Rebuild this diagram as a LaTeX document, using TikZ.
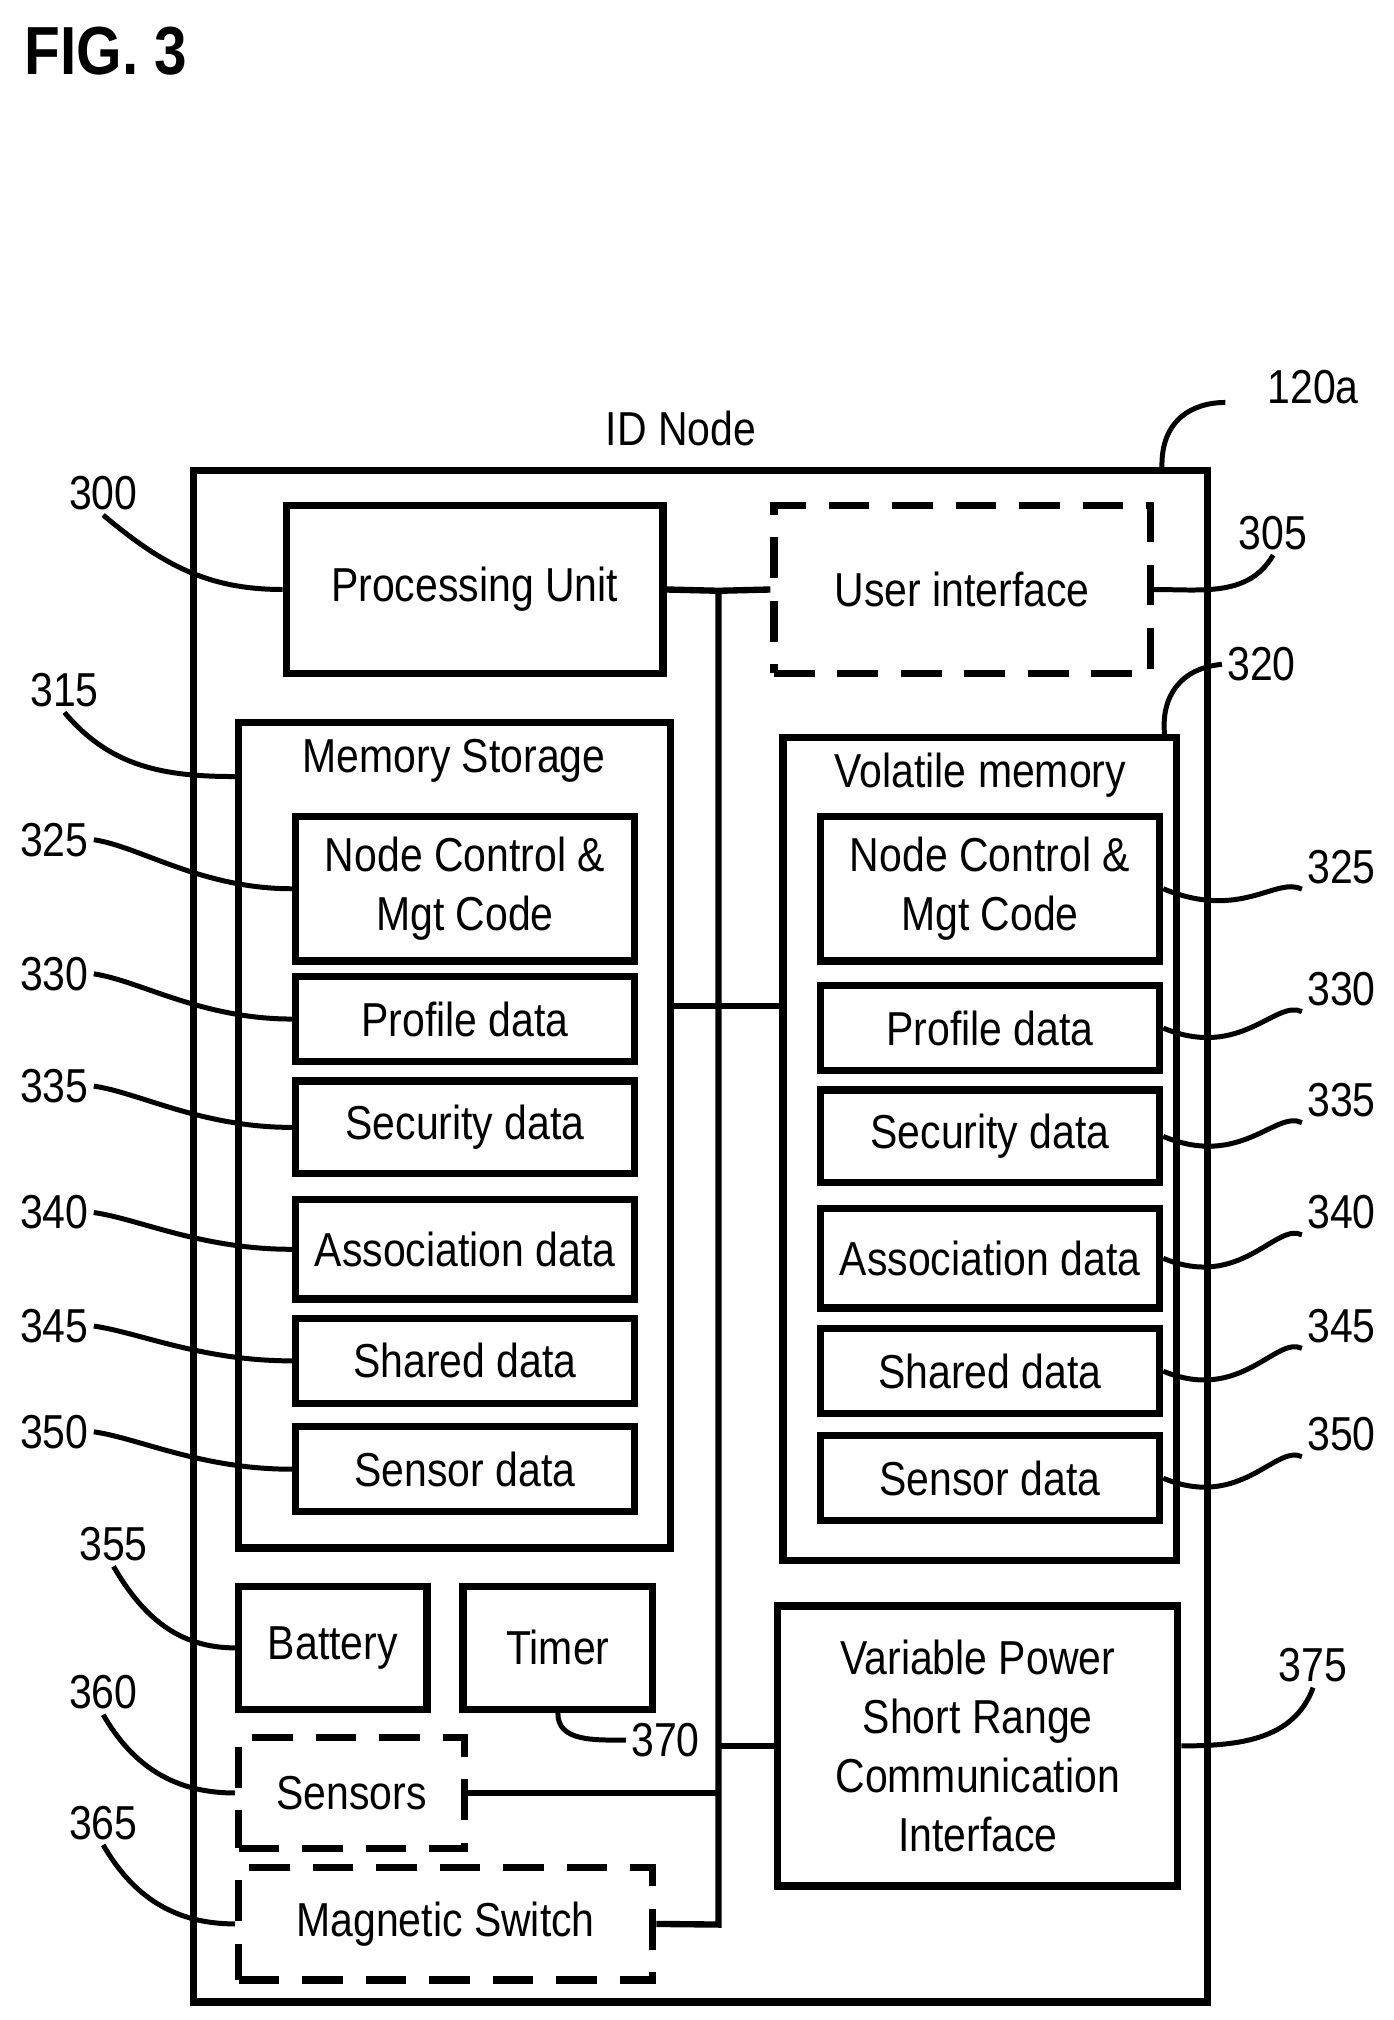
\documentclass[tikz,border=0pt]{standalone}
\usepackage{fontspec}
\setmainfont{Liberation Sans}[FakeStretch=0.86]
\begin{document}
\begin{tikzpicture}[x=0.01cm,y=-0.01cm,
  box/.style={draw,line width=1.6pt,inner sep=0pt,align=center,font=\fontsize{10.5}{13}\selectfont},
  dbox/.style={box,dash pattern=on 9pt off 5pt},
  lbl/.style={font=\fontsize{10.5}{13}\selectfont,inner sep=1pt},
  ln/.style={line width=1.4pt},
  ld/.style={line width=1.1pt}]
\newcommand\bx[7][box]{\node[#1,minimum width={(#5-#3)*0.01cm},minimum height={(#6-#4)*0.01cm}] (#2) at ({(#3+#5)/2},{(#4+#6)/2}) {#7};}
\useasboundingbox (0,0) rectangle (1080,1566);
\node[font=\bfseries\fontsize{15}{18}\selectfont] (fig) at (82,40) {FIG. 3};
\bx{outer}{150}{365}{936}{1552}{}
\node[lbl] (idn) at (528,332) {ID Node};
\node[lbl] (l120) at (1018,300) {120a};
\bx{pu}{222}{392}{514}{522}{Processing Unit}
\bx[dbox]{ui}{600}{392}{892}{522}{User interface}
\bx{ms}{185}{560}{520}{1200}{}
\node[lbl] (mst) at (352,590) {Memory Storage};
\bx{vm}{607}{572}{912}{1210}{}
\node[lbl] (vmt) at (760,601) {Volatile memory};
% left inner
\bx{lnc}{229}{633}{492}{745}{Node Control \&\\Mgt Code}
\bx{lpd}{229}{757}{492}{823}{Profile data}
\bx{lsd}{229}{838}{492}{910}{Security data}
\bx{lad}{229}{930}{492}{1007}{Association data}
\bx{lsh}{229}{1022}{492}{1088}{Shared data}
\bx{lse}{229}{1106}{492}{1172}{Sensor data}
% right inner
\bx{rnc}{636}{633}{899}{745}{Node Control \&\\Mgt Code}
\bx{rpd}{636}{764}{899}{830}{Profile data}
\bx{rsd}{636}{845}{899}{917}{Security data}
\bx{rad}{636}{937}{899}{1014}{Association data}
\bx{rsh}{636}{1030}{899}{1096}{Shared data}
\bx{rse}{636}{1113}{899}{1179}{Sensor data}
\bx{bat}{185}{1230}{331}{1325}{Battery}
\bx{tim}{359}{1230}{506}{1325}{Timer}
\bx[dbox]{sen}{185}{1347}{360}{1433}{Sensors}
\bx[dbox]{mag}{185}{1448}{506}{1535}{Magnetic Switch}
\bx{vp}{603}{1245}{913}{1462}{Variable Power\\Short Range\\Communication\\Interface}
% bus
\coordinate (bt) at (557,458);
\coordinate (bb) at (557,1492);
\draw[ln] (pu.east) -- (bt) -- (ui.west);
\draw[ln] (bt) -- (bb) -- (mag.east);
\draw[ln] (ms.east |- lpd.east) ++(0,-10) coordinate (m1) -- (vm.west |- m1);
\draw[ln] (sen.east) -- (sen.east -| bb);
\draw[ln] (vp.west) -- (vp.west -| bb);
% labels
\node[lbl] (l300) at (80,382) {300};
\node[lbl] (l305) at (987,413) {305};
\node[lbl] (l315) at (50,535) {315};
\node[lbl] (l320) at (978,515) {320};
\node[lbl] (l355) at (88,1197) {355};
\node[lbl] (l360) at (80,1312) {360};
\node[lbl] (l365) at (80,1413) {365};
\node[lbl] (l370) at (516,1349) {370};
\node[lbl] (l375) at (1018,1291) {375};
\draw[ld] (outer.north east) ++(-38,0) coordinate (o1) .. controls (900,325) and (925,312) .. (950,312);
\draw[ld] (pu.west) to[out=180,in=-40] (l300.south);
\draw[ld] (ui.east) to[out=0,in=-120] (l305.south);
\draw[ld] (ms.west |- 0,602) coordinate (m2) to[out=180,in=-50] (l315.south);
\draw[ld] (vm.north east) ++(-12,0) coordinate (v1) .. controls (900,540) and (915,518) .. (l320.west);
\draw[ld] (bat.west) to[out=180,in=-60] (l355.south);
\draw[ld] (sen.west) to[out=180,in=-60] (l360.south);
\draw[ld] (mag.west) to[out=180,in=-60] (l365.south);
\draw[ld] (tim.south) ++(0,0) .. controls (432,1350) and (460,1349) .. (l370.west);
\draw[ld] (vp.east) to[out=0,in=-110] (l375.south);
\foreach \b/\t/\y in {lnc/325/651,lpd/330/755,lsd/335/842,lad/340/940,lsh/345/1028,lse/350/1110}{
  \node[lbl] (L\b) at (42,\y) {\t};
  \draw[ld] (L\b.east) .. controls +(35,5) and +(-70,0) .. ([yshift=\ifx\b lnc -0.15cm\else 0cm\fi]\b.west);
}
\foreach \b/\t/\y in {rnc/325/672,rpd/330/767,rsd/335/853,rad/340/940,rsh/345/1028,rse/350/1112}{
  \node[lbl] (L\b) at (1040,\y) {\t};
  \draw[ld] (\b.east) .. controls +(60,25) and +(-20,-10) .. (L\b.south west);
}
\end{tikzpicture}
\end{document}
